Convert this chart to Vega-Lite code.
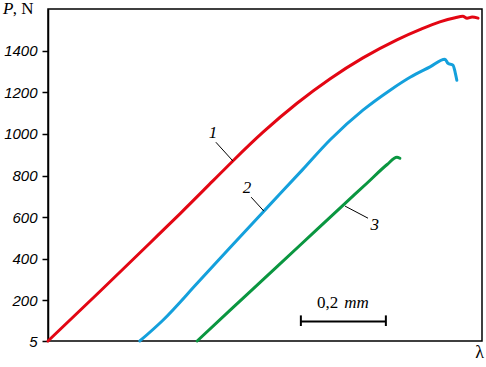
{
  "$schema": "https://vega.github.io/schema/vega-lite/v6.json",
  "width": 434,
  "height": 332,
  "autosize": {"type": "none"},
  "padding": {"left": 48, "top": 9, "right": 4, "bottom": 26},
  "background": "white",
  "config": {
    "view": {"stroke": "black", "strokeWidth": 1.5},
    "axis": {"grid": false, "domainColor": "black", "tickColor": "black"}
  },
  "datasets": {
    "curves": [
      {"curve": "1", "i": 0, "x": 0.0, "p": 5},
      {"curve": "1", "i": 1, "x": 0.122, "p": 243},
      {"curve": "1", "i": 2, "x": 0.24, "p": 476},
      {"curve": "1", "i": 3, "x": 0.311, "p": 617},
      {"curve": "1", "i": 4, "x": 0.388, "p": 774},
      {"curve": "1", "i": 5, "x": 0.435, "p": 870},
      {"curve": "1", "i": 6, "x": 0.506, "p": 1008},
      {"curve": "1", "i": 7, "x": 0.586, "p": 1147},
      {"curve": "1", "i": 8, "x": 0.664, "p": 1265},
      {"curve": "1", "i": 9, "x": 0.741, "p": 1365},
      {"curve": "1", "i": 10, "x": 0.821, "p": 1452},
      {"curve": "1", "i": 11, "x": 0.875, "p": 1501},
      {"curve": "1", "i": 12, "x": 0.922, "p": 1538},
      {"curve": "1", "i": 13, "x": 0.958, "p": 1558},
      {"curve": "1", "i": 14, "x": 0.976, "p": 1565},
      {"curve": "1", "i": 15, "x": 0.986, "p": 1556},
      {"curve": "1", "i": 16, "x": 0.998, "p": 1561},
      {"curve": "1", "i": 17, "x": 1.012, "p": 1556},
      {"curve": "2", "i": 0, "x": 0.216, "p": 5},
      {"curve": "2", "i": 1, "x": 0.271, "p": 106},
      {"curve": "2", "i": 2, "x": 0.351, "p": 282},
      {"curve": "2", "i": 3, "x": 0.428, "p": 453},
      {"curve": "2", "i": 4, "x": 0.508, "p": 629},
      {"curve": "2", "i": 5, "x": 0.598, "p": 826},
      {"curve": "2", "i": 6, "x": 0.664, "p": 972},
      {"curve": "2", "i": 7, "x": 0.741, "p": 1114},
      {"curve": "2", "i": 8, "x": 0.805, "p": 1210},
      {"curve": "2", "i": 9, "x": 0.852, "p": 1272},
      {"curve": "2", "i": 10, "x": 0.899, "p": 1322},
      {"curve": "2", "i": 11, "x": 0.934, "p": 1359},
      {"curve": "2", "i": 12, "x": 0.941, "p": 1339},
      {"curve": "2", "i": 13, "x": 0.953, "p": 1330},
      {"curve": "2", "i": 14, "x": 0.958, "p": 1296},
      {"curve": "2", "i": 15, "x": 0.962, "p": 1258},
      {"curve": "3", "i": 0, "x": 0.351, "p": 5},
      {"curve": "3", "i": 1, "x": 0.428, "p": 152},
      {"curve": "3", "i": 2, "x": 0.506, "p": 300},
      {"curve": "3", "i": 3, "x": 0.593, "p": 465},
      {"curve": "3", "i": 4, "x": 0.694, "p": 657},
      {"curve": "3", "i": 5, "x": 0.751, "p": 764},
      {"curve": "3", "i": 6, "x": 0.798, "p": 853},
      {"curve": "3", "i": 7, "x": 0.821, "p": 888},
      {"curve": "3", "i": 8, "x": 0.828, "p": 883}
    ],
    "leaders": [
      {"x": 0.395, "p": 960, "x2": 0.435, "p2": 870},
      {"x": 0.478, "p": 696, "x2": 0.508, "p2": 629},
      {"x": 0.699, "p": 653, "x2": 0.753, "p2": 595}
    ],
    "labels": [
      {"t": "1", "x": 0.388, "p": 1003},
      {"t": "2", "x": 0.468, "p": 739},
      {"t": "3", "x": 0.769, "p": 562}
    ]
  },
  "layer": [
    {
      "data": {"name": "curves"},
      "mark": {"type": "line", "strokeWidth": 3, "strokeCap": "round", "strokeJoin": "round", "interpolate": "monotone"},
      "encoding": {
        "x": {"field": "x", "type": "quantitative", "scale": {"domain": [0, 1.0212], "nice": false, "zero": false},
              "axis": {"ticks": false, "labels": false, "domain": false, "title": "λ", "titleFont": "Liberation Serif", "titleFontSize": 18, "titleFontWeight": "normal", "titleAlign": "center", "titleAnchor": null, "titleX": 431, "titleY": 16, "titleBaseline": "alphabetic", "titleColor": "black"}},
        "y": {"field": "p", "type": "quantitative", "scale": {"domain": [5, 1600], "nice": false, "zero": false},
              "axis": {"values": [5, 200, 400, 600, 800, 1000, 1200, 1400], "format": "d", "title": null, "labelFont": "Liberation Sans", "labelFontStyle": "italic", "labelFontSize": 15, "labelColor": "black", "tickSize": 6, "labelPadding": 5, "domainWidth": 1.5, "tickWidth": 1.5}},
        "color": {"field": "curve", "type": "nominal", "scale": {"domain": ["1", "2", "3"], "range": ["#e30613", "#14a0dc", "#0a9640"]}, "legend": null},
        "order": {"field": "i", "type": "quantitative"}
      }
    },
    {
      "data": {"name": "leaders"},
      "mark": {"type": "rule", "color": "black", "strokeWidth": 1},
      "encoding": {
        "x": {"field": "x", "type": "quantitative"},
        "y": {"field": "p", "type": "quantitative"},
        "x2": {"field": "x2"},
        "y2": {"field": "p2"}
      }
    },
    {
      "data": {"name": "labels"},
      "mark": {"type": "text", "font": "Liberation Serif", "fontStyle": "italic", "fontSize": 17, "align": "center", "baseline": "middle", "color": "black"},
      "encoding": {
        "x": {"field": "x", "type": "quantitative"},
        "y": {"field": "p", "type": "quantitative"},
        "text": {"field": "t"}
      }
    },
    {
      "data": {"values": [{"x": 0.595, "x2": 0.795, "p": 99}]},
      "mark": {"type": "rule", "color": "black", "strokeWidth": 2},
      "encoding": {
        "x": {"field": "x", "type": "quantitative"},
        "x2": {"field": "x2"},
        "y": {"field": "p", "type": "quantitative"}
      }
    },
    {
      "data": {"values": [{"x": 0.595, "p": 77, "p2": 128}, {"x": 0.795, "p": 77, "p2": 128}]},
      "mark": {"type": "rule", "color": "black", "strokeWidth": 2},
      "encoding": {
        "x": {"field": "x", "type": "quantitative"},
        "y": {"field": "p", "type": "quantitative"},
        "y2": {"field": "p2"}
      }
    },
    {
      "data": {"values": [{"t": "0,2", "x": 0.633, "p": 163}]},
      "mark": {"type": "text", "font": "Liberation Serif", "fontSize": 17, "align": "left", "baseline": "alphabetic", "color": "black"},
      "encoding": {
        "x": {"field": "x", "type": "quantitative"},
        "y": {"field": "p", "type": "quantitative"},
        "text": {"field": "t"}
      }
    },
    {
      "data": {"values": [{"t": "mm", "x": 0.697, "p": 163}]},
      "mark": {"type": "text", "font": "Liberation Serif", "fontStyle": "italic", "fontSize": 17, "align": "left", "baseline": "alphabetic", "color": "black"},
      "encoding": {
        "x": {"field": "x", "type": "quantitative"},
        "y": {"field": "p", "type": "quantitative"},
        "text": {"field": "t"}
      }
    },
    {
      "data": {"values": [{"t": "P", "x": -0.106, "p": 1575}]},
      "mark": {"type": "text", "font": "Liberation Serif", "fontStyle": "italic", "fontSize": 17, "align": "left", "baseline": "alphabetic", "color": "black"},
      "encoding": {
        "x": {"field": "x", "type": "quantitative"},
        "y": {"field": "p", "type": "quantitative"},
        "text": {"field": "t"}
      }
    },
    {
      "data": {"values": [{"t": ", N", "x": -0.083, "p": 1575}]},
      "mark": {"type": "text", "font": "Liberation Serif", "fontSize": 17, "align": "left", "baseline": "alphabetic", "color": "black"},
      "encoding": {
        "x": {"field": "x", "type": "quantitative"},
        "y": {"field": "p", "type": "quantitative"},
        "text": {"field": "t"}
      }
    }
  ]
}
